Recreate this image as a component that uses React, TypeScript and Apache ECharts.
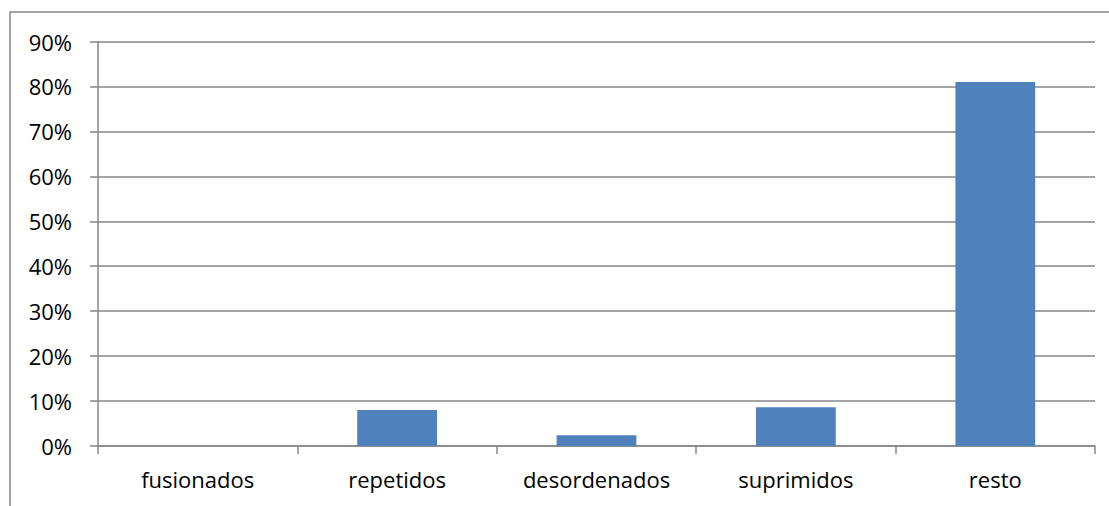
import React, { useEffect, useRef } from "react";
import * as echarts from "echarts";

const categories = ["fusionados", "repetidos", "desordenados", "suprimidos", "resto"];
const values = [0, 0.08, 0.024, 0.086, 0.81];
const yMax = 0.9;
const yInterval = 0.1;

const gray = "#878787";
const font = "'Open Sans', 'Noto Sans', sans-serif";

export default function App() {
  const ref = useRef<HTMLDivElement>(null);
  useEffect(() => {
    if (!ref.current) return;
    const chart = echarts.init(ref.current, undefined, { renderer: "svg" });
    chart.setOption({
      animation: false,
      backgroundColor: "#ffffff",
      graphic: [
        {
          type: "rect",
          shape: { x: 10, y: 12, width: 1300, height: 700 },
          style: { fill: "none", stroke: gray, lineWidth: 1.5 },
          silent: true,
        },
      ],
      grid: { left: 98, top: 41.5, right: 14, bottom: 60, containLabel: false },
      xAxis: {
        type: "category",
        data: categories,
        boundaryGap: true,
        axisLine: { show: true, lineStyle: { color: gray, width: 1.5 } },
        axisTick: { show: true, length: 8, alignWithLabel: false, lineStyle: { color: gray, width: 1.5 } },
        axisLabel: { color: "#000", fontSize: 22, fontFamily: font, margin: 22, interval: 0 },
        splitLine: { show: false },
      },
      yAxis: {
        type: "value",
        min: 0,
        max: yMax,
        interval: yInterval,
        axisLine: { show: true, lineStyle: { color: gray, width: 1.5 } },
        axisTick: { show: true, length: 8, lineStyle: { color: gray, width: 1.5 } },
        axisLabel: {
          color: "#000",
          fontSize: 22,
          fontFamily: font,
          margin: 26,
          formatter: (v: number) => Math.round(v * 100) + "%",
        },
        splitLine: { show: true, lineStyle: { color: gray, width: 1.5 } },
      },
      series: [
        {
          type: "bar",
          data: values,
          barWidth: "40%",
          itemStyle: { color: "#4F81BD", borderWidth: 0 },
        },
      ],
    });
    return () => chart.dispose();
  }, []);
  return (
    <div
      ref={ref}
      style={{ position: "fixed", left: 0, top: 0, width: 1109, height: 506, background: "#fff" }}
    />
  );
}
